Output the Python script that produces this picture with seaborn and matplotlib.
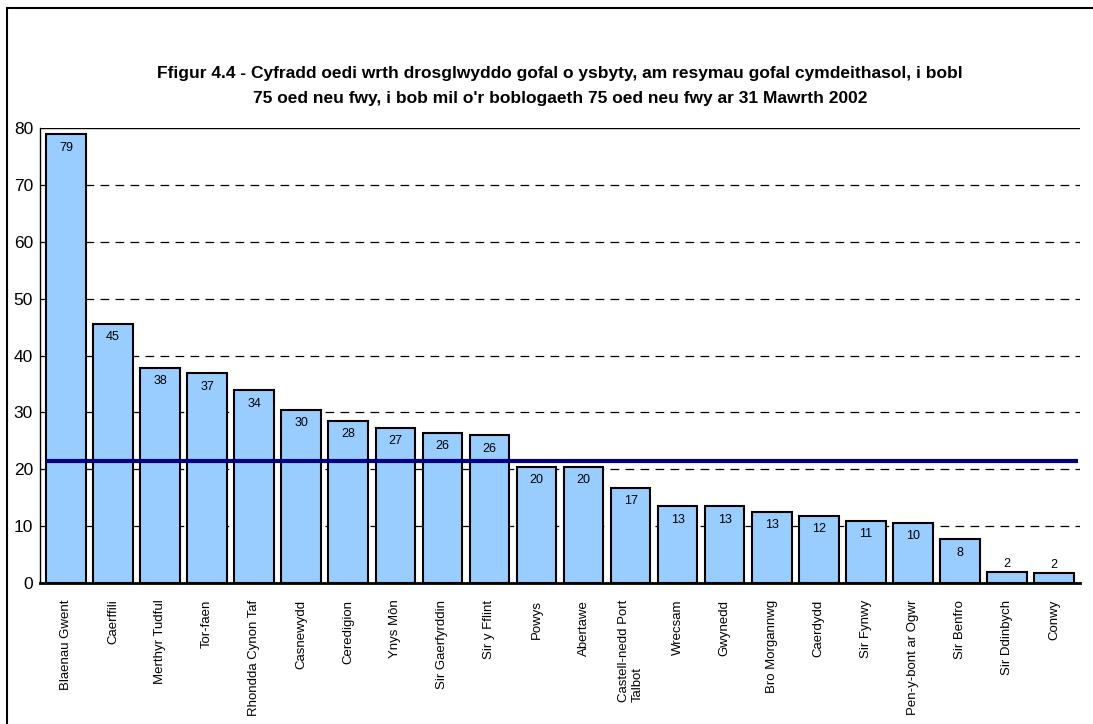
import matplotlib
matplotlib.use("Agg")
import matplotlib.pyplot as plt
import seaborn as sns
import pandas as pd
import numpy as np
from matplotlib.patches import Rectangle

categories = ["Blaenau Gwent", "Caerffili", "Merthyr Tudful", "Tor-faen", "Rhondda Cynon Taf",
              "Casnewydd", "Ceredigion", "Ynys Môn", "Sir Gaerfyrddin", "Sir y Fflint", "Powys",
              "Abertawe", "Castell-nedd Port\nTalbot", "Wrecsam", "Gwynedd", "Bro Morgannwg",
              "Caerdydd", "Sir Fynwy", "Pen-y-bont ar Ogwr", "Sir Benfro", "Sir Ddinbych", "Conwy"]
values = [78.9, 45.6, 37.8, 36.9, 33.9, 30.4, 28.5, 27.3, 26.4, 26.0, 20.4,
          20.4, 16.7, 13.5, 13.5, 12.5, 11.8, 10.9, 10.6, 7.7, 1.9, 1.7]
value_labels = ["79", "45", "38", "37", "34", "30", "28", "27", "26", "26", "20",
                "20", "17", "13", "13", "13", "12", "11", "10", "8", "2", "2"]
wales_average = 21.5
y_ticks = [0, 10, 20, 30, 40, 50, 60, 70, 80]
title = ("Ffigur 4.4 - Cyfradd oedi wrth drosglwyddo gofal o ysbyty, am resymau gofal cymdeithasol, i bobl\n"
         "75 oed neu fwy, i bob mil o'r boblogaeth 75 oed neu fwy ar 31 Mawrth 2002")

sns.set_style("white")
plt.rcParams['font.family'] = ['Liberation Sans', 'DejaVu Sans']
plt.rcParams['text.color'] = 'black'
plt.rcParams['xtick.color'] = 'black'
plt.rcParams['ytick.color'] = 'black'

df = pd.DataFrame({"cat": categories, "val": values})

fig = plt.figure(figsize=(10.93, 7.24), dpi=100)
ax = fig.add_axes([40/1093, 1 - 583/724, 1040/1093, 455/724])

sns.barplot(data=df, x="cat", y="val", color="#99CCFF", edgecolor="black",
            linewidth=1.5, width=0.84, saturation=1, ax=ax, zorder=3)

ax.set_ylim(0, 80)
ax.set_xlim(-0.55, len(categories) - 0.45)
ax.set_yticks(y_ticks)
ax.set_yticklabels([str(t) for t in y_ticks], fontsize=12.5)
for t in y_ticks[1:-1]:
    ax.axhline(t, color="black", linestyle=(0, (7, 5)), linewidth=0.9, zorder=1)
ax.axhline(80, color="black", linewidth=1.0, zorder=1)

ax.hlines(wales_average, -0.42, len(categories) - 0.5, color="#000080", linewidth=3, zorder=4)

for i, (v, lab) in enumerate(zip(values, value_labels)):
    if v > 6:
        ax.text(i, v - 1.3, lab, ha="center", va="top", fontsize=9, zorder=5)
    else:
        ax.text(i, v + 0.4, lab, ha="center", va="bottom", fontsize=9, zorder=5)

ax.set_xticks(range(len(categories)))
ax.set_xticklabels(categories, rotation=90, fontsize=9.5, va="top", ha="center",
                   multialignment="left")
ax.tick_params(axis="x", which="major", length=0, pad=12)
ax.set_xticks(np.arange(-0.5, len(categories), 1.0), minor=True)
ax.tick_params(axis="x", which="minor", length=5, direction="inout", width=1)
ax.tick_params(axis="y", which="major", length=6, direction="inout", width=1, pad=2)
ax.set_xlabel("")
ax.set_ylabel("")

for s in ["top", "right"]:
    ax.spines[s].set_visible(False)
ax.spines["left"].set_linewidth(1.0)
ax.spines["bottom"].set_linewidth(2.0)
ax.spines["left"].set_color("black")
ax.spines["bottom"].set_color("black")

fig.text(560/1093, 1 - 86/724, title, ha="center", va="center", fontsize=12.5,
         fontweight="bold", linespacing=1.8, color="black")

fig.patches.append(Rectangle((7/1093, -0.05), 1.2, 1 - 8/724 + 0.05, transform=fig.transFigure,
                             fill=False, edgecolor="black", linewidth=1.5))

fig.savefig("out.png", dpi=100)
